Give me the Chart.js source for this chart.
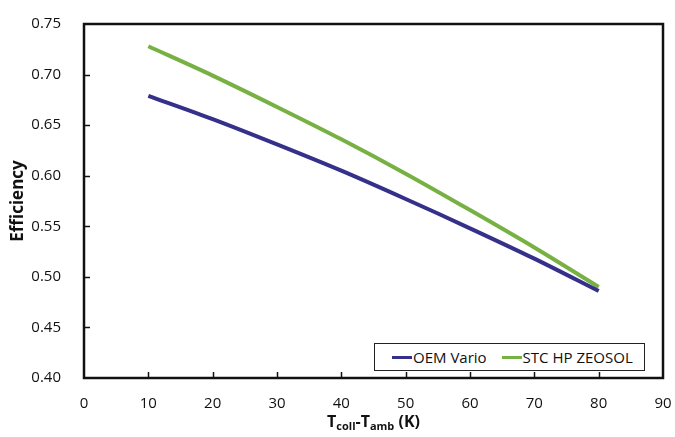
<!DOCTYPE html>
<html>
<head>
<meta charset="utf-8">
<script src="https://cdn.jsdelivr.net/npm/chart.js@4/dist/chart.umd.min.js"></script>
<style>
  html, body { margin: 0; padding: 0; background: #fff; }
  #wrap { position: relative; width: 675px; height: 437px; font-family: "Open Sans", sans-serif; }
  #xtitle { position: absolute; left: 84px; width: 579px; top: 410px; text-align: center; font-weight: bold; font-size: 16px; color: #111; }
  #xtitle sub { font-size: 11px; vertical-align: -3px; }
  #legend { position: absolute; left: 374px; top: 343px; width: 269px; height: 26px; border: 1px solid #222; background: #fff; display: flex; align-items: center; font-size: 15px; color: #111; }
  .lg-item { display: flex; align-items: center; margin-left: 17px; }
  .lg-item + .lg-item { margin-left: 15px; }
  .lg-line { width: 20px; height: 3px; margin-right: 1px; }
</style>
</head>
<body>
<div id="wrap">
  <canvas id="chart" width="675" height="437"></canvas>
  <div id="xtitle">T<sub>coll</sub>-T<sub>amb</sub> (K)</div>
  <div id="legend"></div>
</div>
<script>
const TEMP_DIFF = [10, 20, 30, 40, 50, 60, 70, 80];
const OEM_VARIO = [0.679, 0.656, 0.631, 0.605, 0.577, 0.548, 0.518, 0.486];
const STC_ZEOSOL = [0.728, 0.699, 0.668, 0.636, 0.602, 0.566, 0.529, 0.490];
const SERIES_LABELS = ['OEM Vario', 'STC HP ZEOSOL'];
const SERIES_COLORS = ['#35308a', '#78b143'];

function toPoints(xs, ys) {
  return xs.map(function(x, i) { return { x: x, y: ys[i] }; });
}

// box around the plot area plus inward tick marks
var frame = {
  id: 'frame',
  afterDraw: function(chart) {
    var c = chart.ctx, a = chart.chartArea;
    var xs = chart.scales.x, ys = chart.scales.y;
    c.save();
    c.strokeStyle = '#111';
    c.lineWidth = 1.5;
    xs.ticks.forEach(function(t) {
      var px = Math.round(xs.getPixelForValue(t.value)) + 0.5;
      if (t.value <= 0 || t.value >= 90) return;
      c.beginPath(); c.moveTo(px, a.bottom); c.lineTo(px, a.bottom - 6); c.stroke();
    });
    ys.ticks.forEach(function(t) {
      var py = Math.round(ys.getPixelForValue(t.value)) + 0.5;
      if (t.value <= 0.4 || t.value >= 0.75) return;
      c.beginPath(); c.moveTo(a.left, py); c.lineTo(a.left + 6, py); c.stroke();
    });
    c.lineWidth = 2.5;
    c.strokeRect(a.left, a.top, a.right - a.left, a.bottom - a.top);
    c.restore();
  }
};

var chart = new Chart(document.getElementById('chart'), {
  type: 'line',
  data: {
    datasets: [
      {
        label: SERIES_LABELS[0],
        data: toPoints(TEMP_DIFF, OEM_VARIO),
        borderColor: SERIES_COLORS[0],
        backgroundColor: SERIES_COLORS[0],
        borderWidth: 4, pointRadius: 0, tension: 0.3,
      },
      {
        label: SERIES_LABELS[1],
        data: toPoints(TEMP_DIFF, STC_ZEOSOL),
        borderColor: SERIES_COLORS[1],
        backgroundColor: SERIES_COLORS[1],
        borderWidth: 4, pointRadius: 0, tension: 0.3,
      },
    ],
  },
  options: {
    responsive: false,
    animation: false,
    layout: { padding: { left: 0, top: 13, right: 0, bottom: 0 } },
    scales: {
      x: {
        type: 'linear', min: 0, max: 90,
        grid: { display: false },
        border: { display: false },
        ticks: { stepSize: 10, padding: 9, color: '#111', font: { family: 'Open Sans', size: 15 } },
        afterFit: function(s) { s.height = 59; s.paddingRight = 12; s.paddingLeft = 0; },
      },
      y: {
        min: 0.4, max: 0.75,
        grid: { display: false },
        border: { display: false },
        title: { display: true, text: 'Efficiency', color: '#111', padding: { top: 8, bottom: 0 }, font: { family: 'Open Sans', size: 17, weight: 'bold' } },
        ticks: {
          stepSize: 0.05, padding: 15, color: '#111', font: { family: 'Open Sans', size: 15 },
          callback: function(v) { return v.toFixed(2); },
        },
        afterFit: function(s) { s.width = 84; },
      },
    },
    plugins: {
      legend: { display: false },
      tooltip: { enabled: false },
    },
  },
  plugins: [frame],
});

var legend = document.getElementById('legend');
chart.data.datasets.forEach(function(ds) {
  var item = document.createElement('div');
  item.className = 'lg-item';
  var line = document.createElement('span');
  line.className = 'lg-line';
  line.style.background = ds.borderColor;
  var txt = document.createElement('span');
  txt.textContent = ds.label;
  item.appendChild(line);
  item.appendChild(txt);
  legend.appendChild(item);
});
</script>
</body>
</html>
